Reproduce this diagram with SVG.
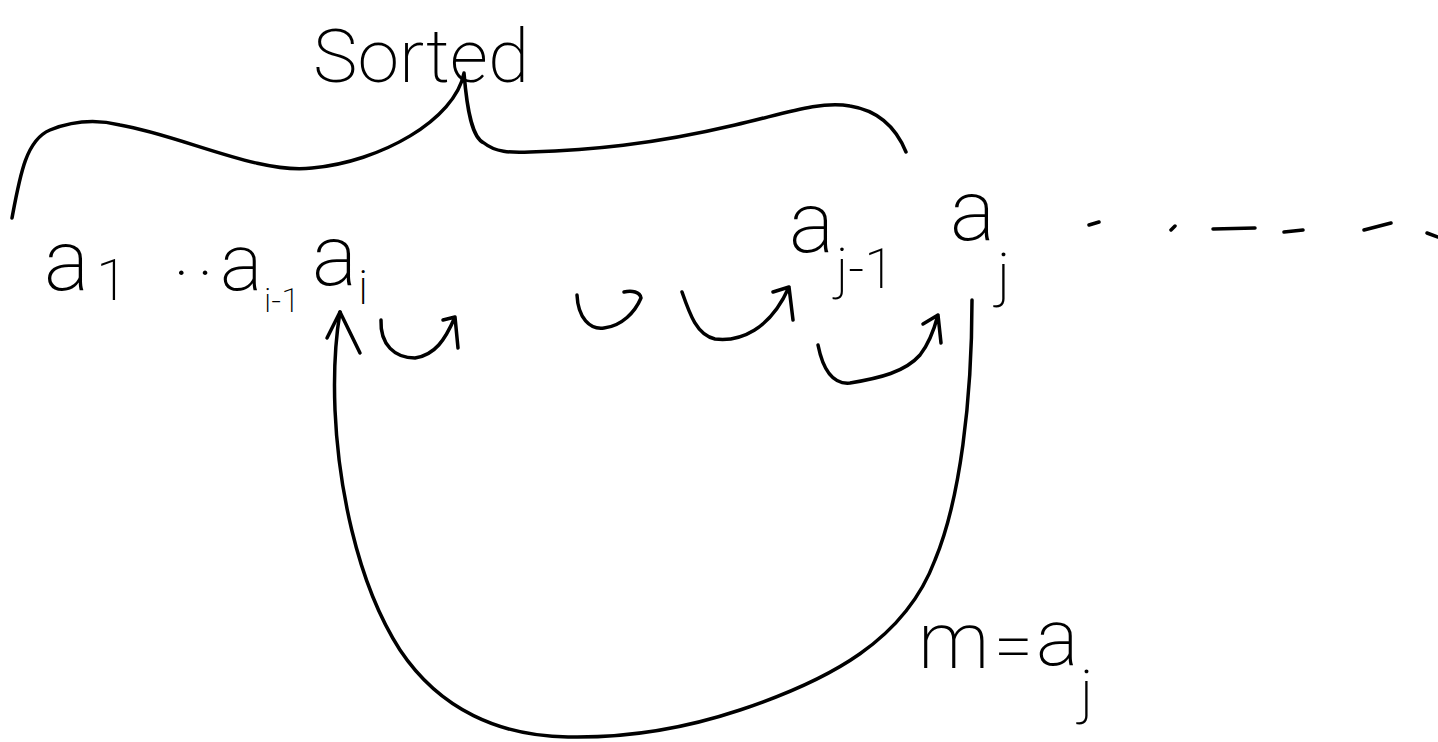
<svg xmlns="http://www.w3.org/2000/svg" width="1438" height="742" viewBox="0 0 1438 742">
<style>
.ink{fill:none;stroke:#000;stroke-width:3.5;stroke-linecap:round;stroke-linejoin:round}
.t{font-family:Roboto,"Liberation Sans",sans-serif;font-weight:200;fill:#000}
.big{font-size:85px}
.sub{font-size:55px}
</style>
<rect width="1438" height="742" fill="#fff"/>
<g id="brace">
<path class="ink" d="M12,218 C20,175 26,140 50,130 C75,120 100,120 120,125 C180,135 260,175 312,168 C380,162 455,120 464,73 C467,110 472,138 484,143 C495,152 510,153 530,152 C590,150 650,145 735,125 C780,115 820,100 850,106 C875,110 895,125 906,152"/>
<text class="t" x="313" y="82" font-size="75">Sorted</text>
</g>
<g id="a1"><text class="t big" x="44" y="290">a</text><text class="t" x="96" y="300" font-size="58">1</text></g>
<g id="dots1"><text class="t" x="174" y="275" font-size="70" letter-spacing="8">..</text></g>
<g id="ai-1"><text class="t" x="220" y="290" font-size="80">a</text><text class="t" x="264" y="312" font-size="34">i-1</text></g>
<g id="ai"><text class="t big" x="312" y="285">a</text><text class="t" x="358" y="304" font-size="48">i</text></g>
<g id="aj-1"><text class="t big" x="789" y="252">a</text><text class="t sub" x="836" y="288">j-1</text></g>
<g id="aj"><text class="t big" x="950" y="240">a</text><text class="t" x="997" y="295" font-size="60">j</text></g>
<g id="rest">
<path class="ink" d="M1089,225 L1099,222 M1171,230 L1175,226 M1213,229 L1255,228 M1284,232 L1303,230 M1364,230 L1391,223 M1427,233 L1438,237"/>
</g>
<g id="m-label"><text class="t" x="918" y="668" font-size="80">m</text><text class="t" x="994" y="670" font-size="70">=</text><text class="t" x="1036" y="665" font-size="80">a</text><text class="t" x="1080" y="712" font-size="60">j</text></g>
<g id="connectors">
<path class="ink" d="M972,300 C972,400 960,500 935,560 C905,640 830,680 740,710 C680,730 620,738 568,737 C500,736 440,710 400,650 C355,580 338,480 335,410 C333,360 337,330 340,312"/>
<path class="ink" d="M327,338 L340,312 L360,353"/>
<path class="ink" d="M381,320 C380,345 395,358 415,358 C435,355 445,340 455,317 M443,320 L455,317 L458,348"/>
<path class="ink" d="M577,295 C578,318 590,330 604,328 C622,326 635,312 641,298 M624,292 C632,290 640,292 641,298"/>
<path class="ink" d="M682,292 C690,315 697,335 715,339 C740,342 770,330 789,287 M773,292 L789,287 L793,320"/>
<path class="ink" d="M818,345 C822,365 830,385 850,383 C880,378 905,372 920,355 C928,345 934,330 938,315 M923,324 L938,315 L941,343"/>
</g>
</svg>
